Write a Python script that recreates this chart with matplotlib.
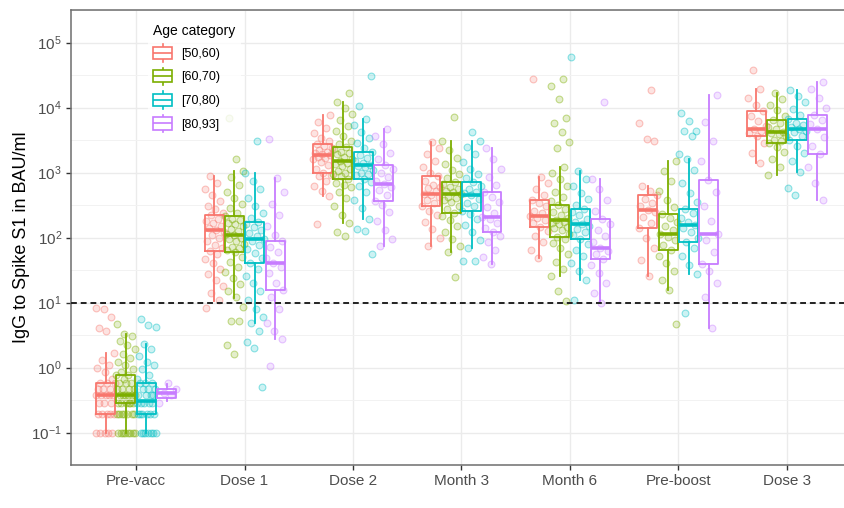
import numpy as np
import matplotlib
matplotlib.use('Agg')
import matplotlib.pyplot as plt
import matplotlib.patches as mpatches
from matplotlib.lines import Line2D
from matplotlib.colors import to_rgba
from matplotlib.legend_handler import HandlerBase

plt.rcParams['font.family'] = ['Liberation Sans', 'DejaVu Sans']

timepoints = ['Pre-vacc', 'Dose 1', 'Dose 2', 'Month 3', 'Month 6', 'Pre-boost', 'Dose 3']
age_groups = ['[50,60)', '[60,70)', '[70,80)', '[80,93]']
colors = ['#F8766D', '#7CAE00', '#00BFC4', '#C77CFF']
threshold = 10

# box statistics (BAU/ml), rows = age groups, columns = timepoints
whislo = [[0.1, 10.6, 430, 74, 49, 26, 1380],
          [0.1, 11.7, 165, 59, 26, 15.7, 930],
          [0.1, 4.9, 195, 69, 22, 27, 1030],
          [0.31, 2.7, 73, 39, 10, 4.1, 380]]
q1 = [[0.19, 61, 1000, 300, 145, 140, 3600],
      [0.28, 59, 800, 235, 102, 65, 2800],
      [0.19, 40, 800, 260, 95, 84, 3200],
      [0.34, 15.7, 370, 120, 46, 39, 1900]]
med = [[0.38, 131, 1850, 475, 213, 267, 4600],
       [0.38, 108, 1480, 460, 187, 115, 4200],
       [0.30, 95, 1300, 450, 160, 155, 4600],
       [0.40, 40, 660, 205, 69, 115, 4600]]
q3 = [[0.57, 219, 2700, 870, 380, 445, 8700],
      [0.76, 213, 2450, 720, 315, 230, 6500],
      [0.57, 175, 2100, 720, 275, 275, 6700],
      [0.47, 87, 1300, 510, 195, 770, 7600]]
whishi = [[1.7, 870, 7600, 2900, 850, 615, 19500],
          [3.3, 1070, 12000, 3100, 1200, 1520, 16500],
          [2.3, 970, 6700, 3100, 1070, 1620, 18700],
          [0.55, 830, 4600, 2400, 800, 15500, 25000]]

# individual measurements (read approximately from the jittered points)
pts_50_60 = [
    [0.1, 0.1, 0.1, 0.1, 0.1, 0.19, 0.19, 0.19, 0.19, 0.19, 0.28, 0.28, 0.28, 0.38, 0.38, 0.38,
     0.38, 0.38, 0.47, 0.47, 0.47, 0.57, 0.57, 0.57, 0.66, 0.85, 1.0, 1.1, 1.3, 1.7, 3.6, 4.1,
     6.0, 8.0, 8.3],
    [8.2, 11, 14, 18, 22, 27, 33, 40, 47, 55, 61, 68, 78, 88, 98, 110, 120, 131, 140, 152, 165,
     180, 195, 219, 240, 270, 310, 370, 450, 560, 700, 870],
    [160, 430, 520, 620, 750, 880, 900, 1000, 1150, 1300, 1450, 1600, 1700, 1750, 1850, 1950,
     2000, 2100, 2250, 2400, 2550, 2700, 3000, 3400, 4000, 4800, 6000, 7600],
    [74, 100, 135, 175, 220, 260, 300, 340, 380, 420, 450, 475, 520, 580, 600, 650, 750, 870,
     1000, 1200, 1500, 1900, 2400, 2900],
    [49, 65, 85, 105, 125, 145, 165, 185, 200, 213, 235, 260, 300, 340, 380, 450, 550, 680,
     850, 27500],
    [26, 45, 70, 100, 140, 170, 210, 245, 267, 300, 340, 390, 445, 520, 615, 3000, 3300, 5700,
     18500],
    [1380, 2000, 2800, 3600, 4000, 4400, 4600, 5200, 6200, 7300, 8700, 11000, 14000, 19500, 38000],
]
pts_60_70 = [
    [0.1, 0.1, 0.1, 0.1, 0.1, 0.1, 0.1, 0.1, 0.19, 0.19, 0.19, 0.19, 0.19, 0.19, 0.19, 0.28,
     0.28, 0.28, 0.28, 0.28, 0.28, 0.38, 0.38, 0.38, 0.38, 0.38, 0.38, 0.47, 0.47, 0.47, 0.47,
     0.57, 0.57, 0.57, 0.66, 0.76, 0.76, 0.85, 0.95, 1.1, 1.2, 1.4, 1.6, 1.9, 2.2, 2.6, 3.0,
     3.3, 4.7],
    [1.6, 2.2, 5.2, 5.2, 8.5, 12, 15, 19, 24, 29, 35, 42, 50, 59, 65, 70, 72, 80, 88, 95, 100,
     108, 115, 125, 135, 150, 160, 165, 185, 190, 213, 240, 280, 330, 400, 500, 650, 850, 1070,
     1630, 6900],
    [105, 120, 165, 220, 300, 400, 500, 600, 650, 700, 800, 880, 960, 1000, 1050, 1150, 1250,
     1350, 1400, 1480, 1600, 1750, 1900, 2000, 2100, 2300, 2450, 2700, 3100, 3600, 4300, 5200,
     6500, 8000, 10000, 12000, 16500],
    [24.5, 59, 75, 95, 120, 150, 185, 215, 235, 270, 310, 350, 380, 400, 420, 460, 500, 520,
     550, 600, 660, 720, 820, 950, 1100, 1350, 1700, 2200, 3100, 7100],
    [10.6, 15, 26, 33, 42, 55, 68, 82, 95, 102, 115, 130, 140, 145, 160, 170, 175, 187, 200,
     220, 245, 275, 315, 360, 420, 500, 620, 800, 1000, 1200, 2400, 2900, 4200, 5700, 6900,
     13500, 21500, 27500],
    [4.6, 15.7, 22, 30, 40, 52, 65, 78, 90, 102, 115, 130, 150, 175, 200, 230, 290, 380, 520,
     750, 1050, 1520],
    [930, 1200, 1600, 2100, 2500, 2800, 3000, 3200, 3600, 3900, 4000, 4200, 4600, 5100, 5700,
     6500, 7500, 9000, 11000, 13500, 16500],
]
pts_70_80 = [
    [0.1, 0.1, 0.1, 0.1, 0.1, 0.1, 0.1, 0.19, 0.19, 0.19, 0.19, 0.19, 0.19, 0.28, 0.28, 0.28,
     0.28, 0.28, 0.38, 0.38, 0.38, 0.38, 0.47, 0.47, 0.47, 0.57, 0.57, 0.57, 0.66, 0.76, 0.95,
     1.1, 1.2, 1.5, 1.9, 2.3, 4.2, 4.5, 5.6],
    [0.5, 2.0, 2.5, 3.6, 4.9, 6, 8, 11, 15, 20, 26, 33, 40, 48, 57, 67, 78, 88, 95, 105, 118,
     130, 145, 160, 175, 200, 240, 300, 400, 550, 750, 970, 3000],
    [55, 124, 135, 195, 280, 380, 500, 620, 720, 800, 900, 950, 1000, 1100, 1200, 1250, 1300,
     1400, 1500, 1650, 1850, 2100, 2400, 2800, 3400, 4200, 5300, 6700, 10500, 30000],
    [43, 43, 69, 90, 120, 155, 195, 230, 260, 300, 340, 390, 450, 480, 500, 560, 620, 720, 820,
     950, 1150, 1450, 1900, 2500, 3100, 4200],
    [10.9, 22, 30, 40, 52, 65, 80, 95, 108, 120, 135, 150, 160, 175, 195, 220, 245, 275, 320,
     390, 480, 620, 800, 1070, 60000],
    [6.8, 27, 38, 52, 68, 84, 100, 120, 140, 155, 175, 200, 235, 275, 350, 480, 700, 1100, 1620,
     1900, 3600, 4300, 4300, 6300, 8100],
    [445, 580, 1030, 1500, 2000, 2600, 3200, 3700, 4200, 4400, 4600, 5100, 5400, 5700, 6700,
     7800, 9500, 12000, 15000, 18700],
]
pts_80_93 = [
    [0.28, 0.38, 0.40, 0.47, 0.57],
    [1.05, 2.7, 3.6, 4.9, 8, 12, 15.7, 20, 28, 35, 40, 48, 60, 72, 87, 110, 150, 220, 330, 500,
     830, 3300],
    [73, 95, 130, 180, 250, 320, 370, 450, 530, 600, 660, 750, 850, 980, 1150, 1300, 1600, 2000,
     2700, 3600, 4600],
    [39, 50, 65, 85, 105, 120, 140, 165, 190, 205, 240, 290, 350, 420, 510, 650, 850, 1150, 1600,
     2400],
    [10, 14, 20, 28, 38, 46, 55, 62, 69, 85, 105, 130, 160, 195, 260, 380, 550, 800, 12000],
    [4.1, 12, 20, 30, 39, 60, 90, 115, 180, 300, 500, 770, 1500, 3000, 6000, 15500],
    [380, 700, 1200, 1900, 2600, 3500, 4600, 5500, 6500, 7600, 10000, 14000, 19000, 25000],
]
points = [pts_50_60, pts_60_70, pts_70_80, pts_80_93]


class BoxKey(HandlerBase):
    """draws a small boxplot glyph as legend key"""
    def create_artists(self, legend, orig_handle, xdescent, ydescent,
                       width, height, fontsize, trans):
        c = orig_handle.get_edgecolor()
        x0 = -xdescent
        y0 = -ydescent
        xm = x0 + width / 2
        lw = 1.2
        arts = [
            Line2D([xm, xm], [y0, y0 + 0.15 * height], color=c, lw=lw, transform=trans),
            Line2D([xm, xm], [y0 + 0.85 * height, y0 + height], color=c, lw=lw, transform=trans),
            mpatches.Rectangle((x0, y0 + 0.15 * height), width, 0.7 * height, facecolor='white',
                               edgecolor=c, lw=lw, transform=trans),
            Line2D([x0, x0 + width], [y0 + 0.5 * height] * 2, color=c, lw=lw,
                   solid_capstyle='butt', transform=trans),
        ]
        return arts


fig = plt.figure(figsize=(8.45, 5.08), dpi=100)
ax = fig.add_axes([71 / 845, 43 / 508, 781 / 845, 455 / 508])
ax.set_yscale('log')

dodge = [-0.28125, -0.09375, 0.09375, 0.28125]
box_w = 0.175
jitter = 0.09

for g in range(4):
    c = colors[g]
    for t in range(len(timepoints)):
        vals = np.array(points[g][t])
        n = len(vals)
        offs = ((np.arange(n) * 0.618034 + 0.37 * g + 0.11 * t) % 1 - 0.5) * 2 * jitter
        ax.scatter(t + 1 + dodge[g] + offs, vals, s=24, facecolor=to_rgba(c, 0.2),
                   edgecolor=to_rgba(c, 0.42), linewidths=0.8, zorder=2)
    stats = [dict(whislo=whislo[g][t], q1=q1[g][t], med=med[g][t], q3=q3[g][t],
                  whishi=whishi[g][t]) for t in range(len(timepoints))]
    ax.bxp(stats, positions=[t + 1 + dodge[g] for t in range(len(timepoints))],
           widths=box_w, showfliers=False, showcaps=False, manage_ticks=False, zorder=3,
           boxprops=dict(color=c, lw=1.3),
           whiskerprops=dict(color=c, lw=1.3),
           medianprops=dict(color=c, lw=2.6, solid_capstyle='butt'))

ax.axhline(threshold, color='#222222', ls=(0, (3, 2)), lw=1.4, zorder=4)

ax.set_xlim(0.4, 7.6)
ax.set_ylim(10 ** -1.31, 10 ** 5.07)
ax.set_xticks(range(1, 8))
ax.set_xticklabels(timepoints)
ax.set_yticks([10.0 ** k for k in range(-1, 6)])
ax.set_yticks([10.0 ** (k + 0.5) for k in range(-2, 6)], minor=True)
ax.tick_params(axis='both', which='major', labelsize=11, colors='#333333',
               labelcolor='#4D4D4D', length=3.5, width=1.0, pad=3)
ax.tick_params(axis='y', which='minor', length=0)
ax.grid(True, which='major', color='#EBEBEB', lw=1.0, zorder=0)
ax.grid(True, which='minor', axis='y', color='#F2F2F2', lw=0.7, zorder=0)
ax.set_axisbelow(True)
for s in ax.spines.values():
    s.set_color('#6E6E6E')
    s.set_linewidth(1.1)

ax.set_ylabel('IgG to Spike S1 in BAU/ml', fontsize=13, labelpad=1)

handles = [mpatches.Patch(edgecolor=c, facecolor='none', label=l)
           for c, l in zip(colors, age_groups)]
leg = ax.legend(handles=handles, title='Age category', loc='upper left',
                bbox_to_anchor=(0.091, 0.994), fontsize=9, title_fontsize=10,
                handler_map={mpatches.Patch: BoxKey()}, handlelength=1.5,
                handleheight=1.75, handletextpad=0.7, labelspacing=0.5,
                borderpad=0.4, frameon=True, alignment='left')
leg.get_frame().set_facecolor('white')
leg.get_frame().set_edgecolor('none')

fig.savefig('out.png', dpi=100, facecolor='white')
